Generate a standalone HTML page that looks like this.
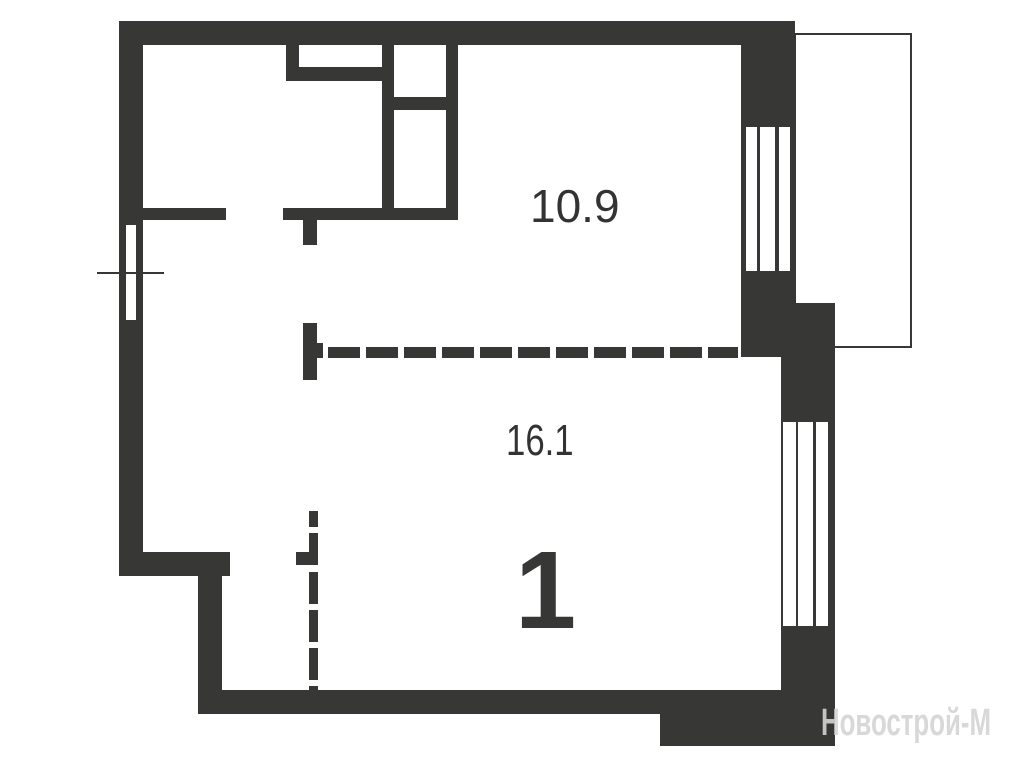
<!DOCTYPE html>
<html><head><meta charset="utf-8"><style>
html,body{margin:0;padding:0;background:#fff;}
svg{display:block;}
</style></head><body>
<svg width="1009" height="768" viewBox="0 0 1009 768" xmlns="http://www.w3.org/2000/svg">
<g fill="#373735">
<!-- top wall -->
<rect x="119" y="21" width="676" height="24"/>
<!-- left wall -->
<rect x="119" y="21" width="24" height="555"/>
<rect x="119" y="552" width="111" height="24"/>
<rect x="198" y="552" width="24" height="162"/>
<!-- bottom wall -->
<rect x="198" y="690" width="637" height="24"/>
<rect x="660" y="690" width="175" height="56"/>
<!-- right walls -->
<rect x="741" y="21" width="54" height="336"/>
<rect x="781" y="303" width="54" height="443"/>
<!-- bathroom inner walls -->
<rect x="286" y="45" width="13" height="36"/>
<rect x="286" y="67" width="108" height="14"/>
<rect x="382" y="45" width="12" height="175"/>
<rect x="394" y="97" width="52" height="13"/>
<rect x="446" y="45" width="12" height="175"/>
<rect x="143" y="208" width="83" height="12"/>
<rect x="283" y="208" width="175" height="12"/>
<rect x="303" y="220" width="14" height="25"/>
<!-- dashed partition horizontal -->
<rect x="303" y="323" width="14" height="57"/>
<rect x="317" y="343" width="6" height="15"/>
</g>
<line x1="328" y1="352.5" x2="738" y2="352.5" stroke="#373735" stroke-width="11" stroke-dasharray="32 6"/>
<!-- dashed vertical -->
<g fill="#373735">
<rect x="309" y="511" width="9" height="16"/>
<rect x="309" y="533" width="9" height="32"/>
<rect x="296" y="552" width="22" height="13"/>
</g>
<line x1="313.5" y1="572" x2="313.5" y2="690" stroke="#373735" stroke-width="9" stroke-dasharray="32 6"/>
<!-- windows -->
<g fill="#fff">
<rect x="126" y="225" width="10" height="95"/>
<rect x="746" y="127" width="11" height="144"/>
<rect x="760" y="127" width="15" height="144"/>
<rect x="779" y="127" width="11" height="144"/>
<rect x="783" y="422" width="13" height="204"/>
<rect x="798" y="422" width="15" height="204"/>
<rect x="816" y="422" width="12" height="204"/>
</g>
<line x1="97" y1="273" x2="164" y2="273" stroke="#373735" stroke-width="2"/>
<!-- balcony -->
<rect x="795" y="34" width="116" height="313" fill="none" stroke="#373735" stroke-width="2"/>
<!-- labels -->
<text x="530" y="222" font-family="Liberation Sans, sans-serif" font-size="46" fill="#333">10.9</text>
<text x="0" y="0" font-family="Liberation Sans, sans-serif" font-size="44" fill="#333" transform="translate(506,455) scale(0.79,1)">16.1</text>
<text x="0" y="0" font-family="Liberation Sans, sans-serif" font-weight="bold" font-size="110" fill="#373735" transform="translate(515,628)">1</text>
<text x="0" y="0" font-family="Liberation Sans, 'DejaVu Sans', sans-serif" font-weight="bold" font-size="38" fill="#d4d4d4" opacity="0.9" transform="translate(821,735) scale(0.68,1)">Новострой-М</text>
</svg>
</body></html>
